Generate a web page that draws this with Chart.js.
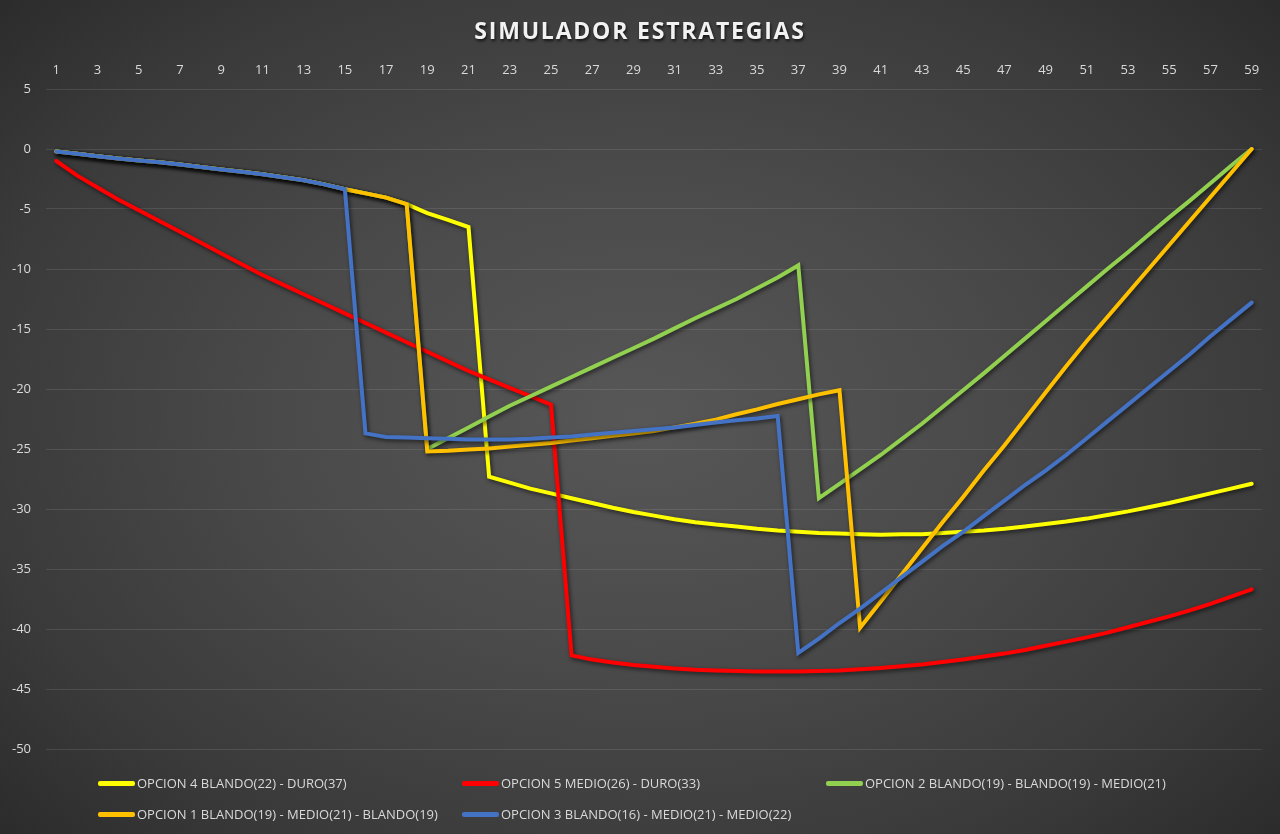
<!DOCTYPE html>
<html>
<head>
<meta charset="utf-8">
<script src="https://cdn.jsdelivr.net/npm/chart.js@4.4.0/dist/chart.umd.min.js"></script>
<style>
  html, body { margin: 0; padding: 0; }
  body {
    width: 1280px; height: 834px; overflow: hidden; position: relative;
    background: radial-gradient(ellipse 70% 75% at 50% 50%, #575757 0%, #4a4a4a 40%, #3a3a3a 75%, #2a2a2a 100%);
    font-family: "Open Sans", "DejaVu Sans", sans-serif;
  }
  #wrap { position: absolute; left: 0; top: 0; width: 1280px; height: 834px; }
  #title {
    position: absolute; left: 0; width: 1280px; top: 14px; text-align: center;
    color: #f2f2f2; font: 700 23px "Open Sans", sans-serif; letter-spacing: 1.8px;
    text-shadow: 1px 2px 3px rgba(0,0,0,0.7);
  }
  #legend { position: absolute; left: 98px; top: 774px; width: 1120px; }
  .item { position: absolute; display: flex; align-items: center; color: #d9d9d9; font-size: 13px; white-space: nowrap; }
  .swatch { width: 37px; height: 5px; border-radius: 2px; margin-right: 2px; }
</style>
</head>
<body>
<div id="wrap"><canvas id="sim-chart" width="1280" height="834"></canvas></div>
<div id="title">SIMULADOR ESTRATEGIAS</div>
<div id="legend"></div>
<script>
var dias = [];
for (var d = 1; d <= 59; d++) { dias.push(String(d)); }

var opcion4 = [-0.2,-0.4,-0.6,-0.8,-0.95,-1.1,-1.3,-1.5,-1.7,-1.9,-2.1,-2.35,-2.6,-2.95,-3.35,
  -3.7,-4.05,-4.6,-5.35,-5.9,-6.5,
  -27.3,-27.8,-28.3,-28.7,-29.1,-29.5,-29.9,-30.25,-30.55,-30.85,-31.1,-31.3,-31.45,-31.65,-31.8,-31.9,
  -32.0,-32.05,-32.1,-32.15,-32.1,-32.1,-32.0,-31.9,-31.8,-31.65,-31.45,-31.25,-31.05,-30.8,-30.5,-30.2,
  -29.85,-29.5,-29.1,-28.7,-28.3,-27.9];
var opcion5 = [-1.0,-2.2,-3.2,-4.2,-5.1,-6.0,-6.9,-7.8,-8.7,-9.6,-10.5,-11.3,-12.1,-12.9,-13.7,-14.5,-15.3,
  -16.1,-16.9,-17.7,-18.5,-19.2,-19.9,-20.6,-21.3,
  -42.2,-42.55,-42.8,-43.0,-43.15,-43.3,-43.4,-43.45,-43.5,-43.55,-43.55,-43.55,-43.5,-43.45,-43.35,-43.25,
  -43.1,-42.95,-42.75,-42.55,-42.3,-42.05,-41.75,-41.4,-41.05,-40.7,-40.3,-39.85,-39.4,-38.95,-38.45,-37.9,-37.3,-36.7];
var opcion2 = [-0.2,-0.4,-0.6,-0.8,-0.95,-1.1,-1.3,-1.5,-1.7,-1.9,-2.1,-2.35,-2.6,-2.95,-3.35,
  -3.7,-4.05,-4.6,
  -25.0,-24.1,-23.2,-22.3,-21.4,-20.6,-19.8,-19.0,-18.2,-17.4,-16.6,-15.8,-14.95,-14.1,-13.3,-12.5,-11.6,-10.7,-9.7,
  -29.1,-27.9,-26.7,-25.5,-24.2,-22.9,-21.5,-20.1,-18.7,-17.25,-15.8,-14.35,-12.9,-11.45,-10.0,-8.6,-7.15,-5.7,-4.3,-2.85,-1.4,0];
var opcion1 = [-0.2,-0.4,-0.6,-0.8,-0.95,-1.1,-1.3,-1.5,-1.7,-1.9,-2.1,-2.35,-2.6,-2.95,-3.35,
  -3.7,-4.05,-4.6,
  -25.2,-25.15,-25.05,-24.95,-24.8,-24.65,-24.5,-24.3,-24.1,-23.9,-23.7,-23.5,-23.2,-22.9,-22.55,-22.1,-21.7,-21.25,-20.85,-20.45,-20.1,
  -39.9,-37.7,-35.5,-33.3,-31.1,-29.0,-26.8,-24.7,-22.5,-20.3,-18.1,-16.0,-14.0,-12.0,-10.0,-8.0,-6.0,-4.0,-2.0,0];
var opcion3 = [-0.2,-0.4,-0.6,-0.8,-0.95,-1.1,-1.3,-1.5,-1.7,-1.9,-2.1,-2.35,-2.6,-2.95,-3.35,
  -23.7,-24.0,-24.05,-24.1,-24.15,-24.2,-24.2,-24.2,-24.15,-24.05,-23.95,-23.8,-23.65,-23.5,-23.35,-23.2,-23.0,-22.8,-22.6,-22.45,-22.25,
  -42.0,-40.8,-39.5,-38.3,-37.0,-35.7,-34.4,-33.1,-31.9,-30.6,-29.3,-28.0,-26.8,-25.5,-24.1,-22.7,-21.3,-19.9,-18.5,-17.1,-15.6,-14.2,-12.8];

var nombres = ['OPCION 4 BLANDO(22) - DURO(37)', 'OPCION 5 MEDIO(26) - DURO(33)',
  'OPCION 2 BLANDO(19) - BLANDO(19) - MEDIO(21)', 'OPCION 1 BLANDO(19) - MEDIO(21) - BLANDO(19)',
  'OPCION 3 BLANDO(16) - MEDIO(21) - MEDIO(22)'];
var colores = ['#FFFF00', '#FF0000', '#92D050', '#FFC000', '#4472C4'];
var series = [opcion4, opcion5, opcion2, opcion1, opcion3];

var datasets = [];
for (var s = 0; s < series.length; s++) {
  datasets.push({
    label: nombres[s],
    data: series[s],
    borderColor: colores[s],
    backgroundColor: colores[s],
    borderWidth: 4,
    borderCapStyle: 'round',
    borderJoinStyle: 'miter',
    pointRadius: 0,
    tension: 0,
    fill: false,
    order: series.length - s   // later series drawn on top, like excel
  });
}

// soft shadow under every line
var sombra = {
  id: 'sombra',
  beforeDatasetDraw: function (chart) {
    var c = chart.ctx;
    c.save();
    c.shadowColor = 'rgba(0,0,0,0.6)';
    c.shadowBlur = 4;
    c.shadowOffsetX = 1.5;
    c.shadowOffsetY = 2;
  },
  afterDatasetDraw: function (chart) { chart.ctx.restore(); }
};

var ctx = document.getElementById('sim-chart');
var simChart = new Chart(ctx, {
  type: 'line',
  data: { labels: dias, datasets: datasets },
  plugins: [sombra],
  options: {
    responsive: false,
    animation: false,
    layout: { padding: { left: 0, right: 18, top: 49, bottom: 85 } },
    plugins: {
      legend: { display: false },
      title: { display: false },
      tooltip: { enabled: false }
    },
    scales: {
      x: {
        position: 'top',
        offset: true,
        grid: { display: false, drawTicks: false },
        border: { display: false },
        ticks: {
          autoSkip: false, maxRotation: 0, padding: 11,
          color: '#d9d9d9', font: { family: 'Open Sans', size: 13 },
          callback: function (v, i) { return i % 2 === 0 ? dias[i] : ''; }
        },
        afterFit: function (scale) { scale.height = 40; }
      },
      y: {
        min: -50, max: 5,
        grid: { color: 'rgba(255,255,255,0.1)', lineWidth: 1, drawTicks: false },
        border: { display: false },
        ticks: { stepSize: 5, padding: 15, color: '#d9d9d9', font: { family: 'Open Sans', size: 13 } },
        afterFit: function (scale) { scale.width = 46; }
      }
    }
  }
});

// legend laid out like the excel one: three columns, two rows
var leyenda = document.getElementById('legend');
simChart.data.datasets.forEach(function (ds, i) {
  var item = document.createElement('div');
  item.className = 'item';
  item.style.left = ((i % 3) * 364) + 'px';
  item.style.top = (Math.floor(i / 3) * 31) + 'px';
  var sw = document.createElement('span');
  sw.className = 'swatch';
  sw.style.background = ds.borderColor;
  var tx = document.createElement('span');
  tx.textContent = ds.label;
  item.appendChild(sw);
  item.appendChild(tx);
  leyenda.appendChild(item);
});
</script>
</body>
</html>
